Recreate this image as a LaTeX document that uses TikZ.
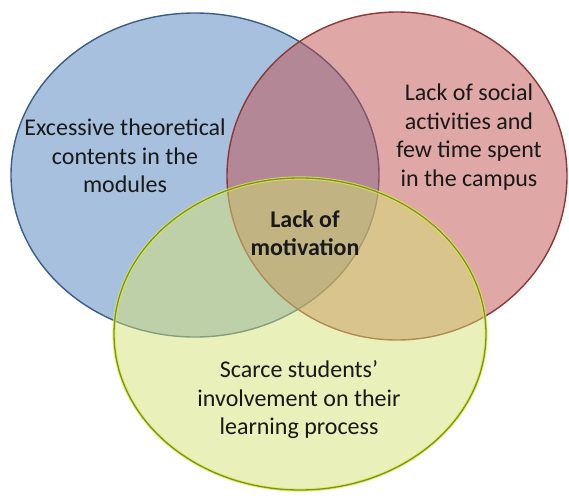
\documentclass[tikz,border=0pt]{standalone}
\usepackage{fontspec}
\setmainfont{Carlito}
\definecolor{bluefill}{RGB}{79,129,189}
\definecolor{blueline}{RGB}{56,93,138}
\definecolor{redfill}{RGB}{192,80,77}
\definecolor{redline}{RGB}{140,56,54}
\definecolor{yelfill}{RGB}{211,225,115}
\definecolor{yelglow}{RGB}{228,236,60}
\definecolor{yelline}{RGB}{118,146,48}
\definecolor{txt}{RGB}{25,25,25}
\tikzset{
  set/.style={fill opacity=0.5, line width=1.4pt},
  lbl/.style={align=center, text=txt, font=\fontsize{24}{28.5}\selectfont, inner sep=0pt},
  lblb/.style={lbl, font=\fontsize{24}{28.5}\selectfont\bfseries}
}
\begin{document}
\begin{tikzpicture}[x=1pt,y=-1pt]
\useasboundingbox (0,0) rectangle (569,495);
% blue set
\draw[set, fill=bluefill, draw=blueline] (195,175) ellipse [x radius=184, y radius=162];
% red set
\draw[set, fill=redfill, draw=redline] (397,176) ellipse [x radius=170, y radius=164];
% yellow set
\fill[fill=yelfill, fill opacity=0.5] (300,334) ellipse [x radius=186, y radius=156];
\draw[yelglow, line width=3.2pt, opacity=0.8] (300,334) ellipse [x radius=186, y radius=156];
\draw[yelline, line width=1.3pt] (300,334) ellipse [x radius=186, y radius=156];
% labels
\node[lbl] (blue) at (125,156) {Excessive theoretical\\contents in the\\modules};
\node[lbl] (red) at (469,137) {Lack of social\\activities and\\few time spent\\in the campus};
\node[lblb] (mid) at (305,233) {Lack of\\motivation};
\node[lbl] (yel) at (299,400) {Scarce students’\\involvement on their\\learning process};
\end{tikzpicture}
\end{document}
